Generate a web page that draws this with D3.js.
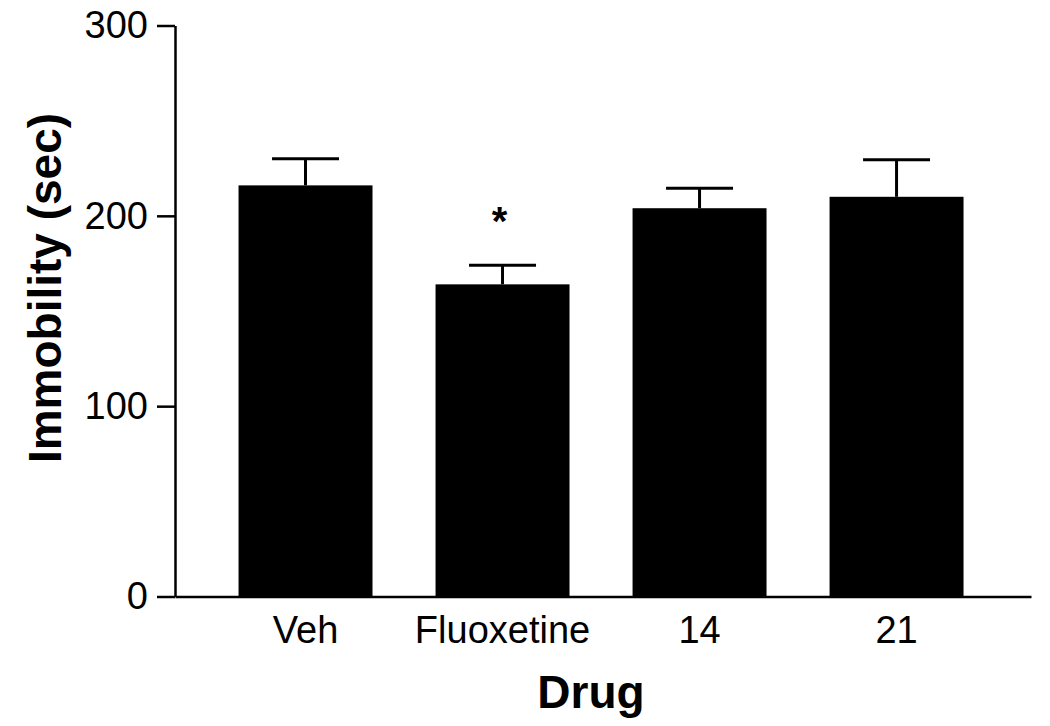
<!DOCTYPE html>
<html>
<head>
<meta charset="utf-8">
<script src="https://cdn.jsdelivr.net/npm/d3@7"></script>
<style>
  body { margin: 0; background: #fff; }
  svg text { font-family: "Liberation Sans", Arial, Helvetica, sans-serif; }
</style>
</head>
<body>
<div class="canvas"></div>
<script>
// data
const drugs = ['Veh', 'Fluoxetine', '14', '21'];
const immobility = [216, 164, 204, 210];
const sem = [14, 10, 10.5, 19.5];
const significant = [false, true, false, false];
const yTicks = [0, 100, 200, 300];

const width = 1050, height = 726;
const margin = {top: 25.5, right: 19, bottom: 129.5, left: 175};
const graphWidth = width - margin.left - margin.right;
const graphHeight = height - margin.top - margin.bottom;

const svg = d3.select('.canvas')
    .append('svg')
        .attr('width', width)
        .attr('height', height);

const graph = svg.append('g')
    .attr('transform', `translate(${margin.left}, ${margin.top})`);

const data = drugs.map((d, i) => ({name: d, value: immobility[i], err: sem[i], sig: significant[i]}));

// scales
const y = d3.scaleLinear()
    .domain([0, 300])
    .range([graphHeight, 0]);

const x = d3.scaleBand()
    .domain(drugs)
    .range([0, graphWidth])
    .paddingInner(0.32)
    .paddingOuter(0.3325)
    .align(0.485);

// bars
graph.selectAll('rect.bar')
    .data(data)
    .enter()
    .append('rect')
        .attr('class', 'bar')
        .attr('x', d => x(d.name))
        .attr('y', d => y(d.value))
        .attr('width', x.bandwidth())
        .attr('height', d => graphHeight - y(d.value))
        .attr('fill', '#000');

// error bars (upper only)
const errs = graph.selectAll('g.err')
    .data(data)
    .enter()
    .append('g')
        .attr('class', 'err')
        .attr('stroke', '#000')
        .attr('stroke-width', 3);

errs.append('line')
    .attr('x1', d => x(d.name) + x.bandwidth() / 2)
    .attr('x2', d => x(d.name) + x.bandwidth() / 2)
    .attr('y1', d => y(d.value))
    .attr('y2', d => y(d.value + d.err));

errs.append('line')
    .attr('x1', d => x(d.name) + x.bandwidth() / 4)
    .attr('x2', d => x(d.name) + x.bandwidth() * 3 / 4)
    .attr('y1', d => y(d.value + d.err))
    .attr('y2', d => y(d.value + d.err));

// significance stars
graph.selectAll('text.star')
    .data(data.filter(d => d.sig))
    .enter()
    .append('text')
        .attr('class', 'star')
        .attr('x', d => x(d.name) + x.bandwidth() / 2 - 3)
        .attr('y', d => y(d.value + d.err) - 30)
        .attr('text-anchor', 'middle')
        .attr('font-size', 40)
        .attr('font-weight', 'bold')
        .text('*');

// axes
const yAxis = d3.axisLeft(y)
    .tickValues(yTicks)
    .tickSize(18)
    .tickPadding(9)
    .tickSizeOuter(0);

const xAxis = d3.axisBottom(x)
    .tickSize(0)
    .tickPadding(20)
    .tickSizeOuter(0);

const yAxisGroup = graph.append('g').call(yAxis);
const xAxisGroup = graph.append('g')
    .attr('transform', `translate(0, ${graphHeight})`)
    .call(xAxis);

[yAxisGroup, xAxisGroup].forEach(g => {
    g.select('.domain').attr('stroke', '#000').attr('stroke-width', 2.5);
    g.selectAll('.tick line').attr('stroke', '#000').attr('stroke-width', 2.5);
    g.selectAll('.tick text')
        .attr('fill', '#000')
        .attr('font-size', 38)
        .style('font-family', '"Liberation Sans", Arial, sans-serif');
});

xAxisGroup.selectAll('.tick text').attr('dy', '0.71em');

// axis titles
svg.append('text')
    .attr('x', margin.left + graphWidth / 2 - 12)
    .attr('y', 708)
    .attr('text-anchor', 'middle')
    .attr('font-size', 46)
    .attr('font-weight', 'bold')
    .text('Drug');

svg.append('text')
    .attr('transform', 'translate(61, 288) rotate(-90)')
    .attr('text-anchor', 'middle')
    .attr('font-size', 46)
    .attr('font-weight', 'bold')
    .text('Immobility (sec)');
</script>
</body>
</html>
